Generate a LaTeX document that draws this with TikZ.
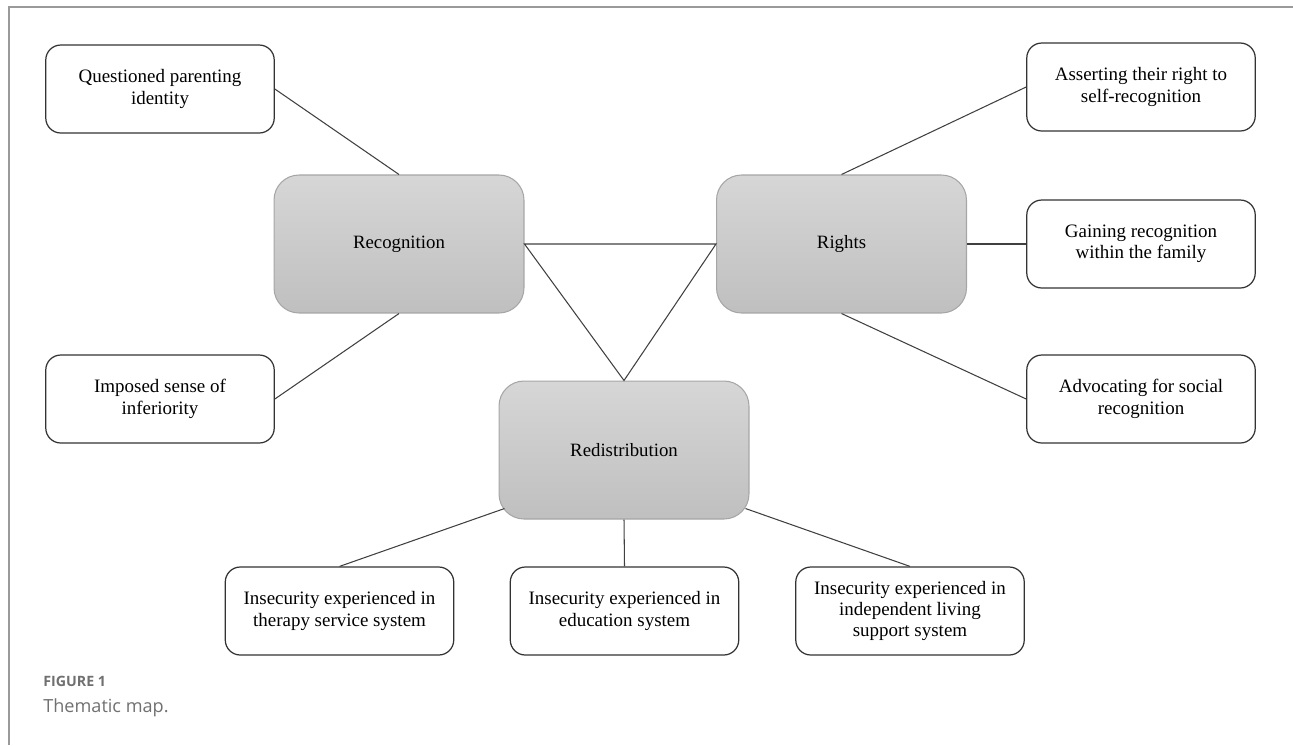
\documentclass[tikz,border=0pt]{standalone}
\usepackage{fontspec}
\setmainfont{Liberation Serif}
\newfontfamily\capfont{Open Sans}
\usetikzlibrary{calc}
\definecolor{cornice}{HTML}{9A9A9A}
\definecolor{didascalia}{HTML}{707070}
\tikzset{
  tema/.style={draw=black!35, line width=0.6pt, rounded corners=0.5cm,
    top color=black!16, bottom color=black!25,
    minimum width=5cm, minimum height=2.76cm,
    font=\fontsize{10.7}{12.5}\selectfont},
  sottotema/.style={draw=black!80, line width=0.7pt, rounded corners=0.3cm,
    fill=white, minimum width=4.57cm, minimum height=1.76cm, align=center,
    font=\fontsize{10.8}{12.2}\selectfont},
  legame/.style={black!75, line width=0.6pt}
}
\begin{document}
\begin{tikzpicture}[x=0.02cm,y=-0.02cm]
        \useasboundingbox (0,0) rectangle (1293,745);
        % cornice
        \draw[cornice, line width=0.8pt] (9,745) -- (9,7) -- (1293,7);

        % temi principali
        \node[tema] (rec) at (399,244) {Recognition};
        \node[tema] (rig) at (841.5,244) {Rights};
        \node[tema] (red) at (624,450) {Redistribution};

        % sottotemi
        \node[sottotema] (quest) at (160,89) {Questioned parenting\\identity};
        \node[sottotema] (impo) at (160,399) {Imposed sense of\\inferiority};
        \node[sottotema] (asse) at (1141,87) {Asserting their right to\\self-recognition};
        \node[sottotema] (gain) at (1141,244) {Gaining recognition\\within the family};
        \node[sottotema] (advo) at (1141,399) {Advocating for social\\recognition};
        \node[sottotema] (ther) at (339.5,611) {Insecurity experienced in\\therapy service system};
        \node[sottotema] (educ) at (624.5,611) {Insecurity experienced in\\education system};
        \node[sottotema] (indi) at (910,611) {Insecurity experienced in\\independent living\\support system};

        % collegamenti
        \draw[legame] (quest.east) -- (rec.north);
        \draw[legame] (impo.east) -- (rec.south);
        \draw[legame] (rec.east) -- (rig.west) -- (red.north) -- cycle;
        \draw[legame] (rig.north) -- (asse.west);
        \draw[legame] (rig.east) -- (gain.west);
        \draw[legame] (rig.south) -- (advo.west);
        \draw[legame] ($(red.south west)+(6,-11)$) -- (ther.north);
        \draw[legame] (red.south) -- (educ.north);
        \draw[legame] ($(red.south east)+(-4,-11)$) -- (indi.north);

        % didascalia
        \node[anchor=base west, inner sep=0pt, text=didascalia, font=\capfont\fontsize{8.1}{9}\selectfont\bfseries] (fig) at (43,686) {FIGURE 1};
        \node[anchor=base west, inner sep=0pt, text=didascalia, font=\capfont\fontsize{10.3}{12}\selectfont] (tit) at (43,712) {Thematic map.};
      \end{tikzpicture}
\end{document}
